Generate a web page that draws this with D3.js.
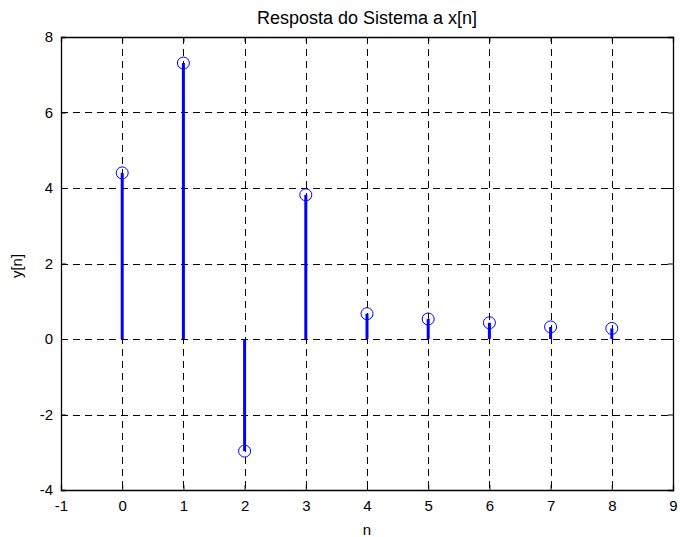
<!DOCTYPE html>
<html>
<head>
<meta charset="utf-8">
<script src="https://cdn.jsdelivr.net/npm/d3@7"></script>
<style>
  body { margin: 0; background: #fff; }
  text { font-family: "Liberation Sans", Arial, sans-serif; fill: #000; }
</style>
</head>
<body>
<div id="chart"></div>
<script>
var nValues = [0, 1, 2, 3, 4, 5, 6, 7, 8];
var yValues = [4.40, 7.31, -2.97, 3.82, 0.67, 0.53, 0.43, 0.32, 0.28];
var xTicks = [-1, 0, 1, 2, 3, 4, 5, 6, 7, 8, 9];
var yTicks = [-4, -2, 0, 2, 4, 6, 8];

var svgWidth = 680;
var svgHeight = 537;
var margin = { top: 37, right: 7, bottom: 47, left: 61 };
var width = svgWidth - margin.left - margin.right;
var height = svgHeight - margin.top - margin.bottom;

var svg = d3.select("#chart")
  .append("svg")
  .attr("width", svgWidth)
  .attr("height", svgHeight);

var chartGroup = svg.append("g")
  .attr("transform", `translate(${margin.left}, ${margin.top})`);

var x = d3.scaleLinear().domain([-1, 9]).range([0, width]);
var y = d3.scaleLinear().domain([-4, 8]).range([height, 0]);

// plain hyphen for negatives, like matlab
var fmt = d => String(d);

// grid lines
chartGroup.append("g")
  .selectAll("line")
  .data(xTicks.slice(1, -1))
  .enter()
  .append("line")
  .attr("x1", d => Math.round(x(d)) + 0.5)
  .attr("x2", d => Math.round(x(d)) + 0.5)
  .attr("y1", 0)
  .attr("y2", height)
  .attr("stroke", "#000")
  .attr("stroke-width", 1)
  .attr("stroke-dasharray", "7,5");

chartGroup.append("g")
  .selectAll("line")
  .data(yTicks.slice(1, -1))
  .enter()
  .append("line")
  .attr("x1", 0)
  .attr("x2", width)
  .attr("y1", d => Math.round(y(d)) + 0.5)
  .attr("y2", d => Math.round(y(d)) + 0.5)
  .attr("stroke", "#000")
  .attr("stroke-width", 1)
  .attr("stroke-dasharray", "7,5");

// axes (ticks point inward)
var bottomAxis = d3.axisBottom(x).tickValues(xTicks).tickSize(-5).tickPadding(10).tickFormat(fmt);
var leftAxis = d3.axisLeft(y).tickValues(yTicks).tickSize(-5).tickPadding(8).tickFormat(fmt);
var topAxis = d3.axisTop(x).tickValues(xTicks).tickSize(-5).tickFormat("");
var rightAxis = d3.axisRight(y).tickValues(yTicks).tickSize(-5).tickFormat("");

var xAxis = chartGroup.append("g")
  .attr("transform", `translate(0, ${height})`)
  .call(bottomAxis);
var yAxis = chartGroup.append("g").call(leftAxis);
chartGroup.append("g").call(topAxis);
chartGroup.append("g").attr("transform", `translate(${width}, 0)`).call(rightAxis);

chartGroup.selectAll(".domain").attr("stroke", "#000").attr("stroke-width", 1.3);
chartGroup.selectAll(".tick line").attr("stroke", "#000");
chartGroup.selectAll(".tick text").style("font-size", "15px").attr("fill", "#000");

// stems
chartGroup.selectAll(".stem")
  .data(nValues)
  .enter()
  .append("line")
  .attr("class", "stem")
  .attr("x1", d => x(d))
  .attr("x2", d => x(d))
  .attr("y1", y(0))
  .attr("y2", (d, i) => y(yValues[i]))
  .attr("stroke", "#0000ff")
  .attr("stroke-width", 3);

chartGroup.selectAll(".marker")
  .data(nValues)
  .enter()
  .append("circle")
  .attr("class", "marker")
  .attr("cx", d => x(d))
  .attr("cy", (d, i) => y(yValues[i]))
  .attr("r", 6)
  .attr("fill", "none")
  .attr("stroke", "#0000ff")
  .attr("stroke-width", 1);

// labels
svg.append("text")
  .attr("x", margin.left + width / 2)
  .attr("y", 24)
  .style("text-anchor", "middle")
  .style("font-size", "18px")
  .text("Resposta do Sistema a x[n]");

svg.append("text")
  .attr("x", margin.left + width / 2)
  .attr("y", 535)
  .style("text-anchor", "middle")
  .style("font-size", "15px")
  .text("n");

svg.append("text")
  .attr("transform", "rotate(-90)")
  .attr("x", -266)
  .attr("y", 22)
  .style("text-anchor", "middle")
  .style("font-size", "15px")
  .text("y[n]");
</script>
</body>
</html>
